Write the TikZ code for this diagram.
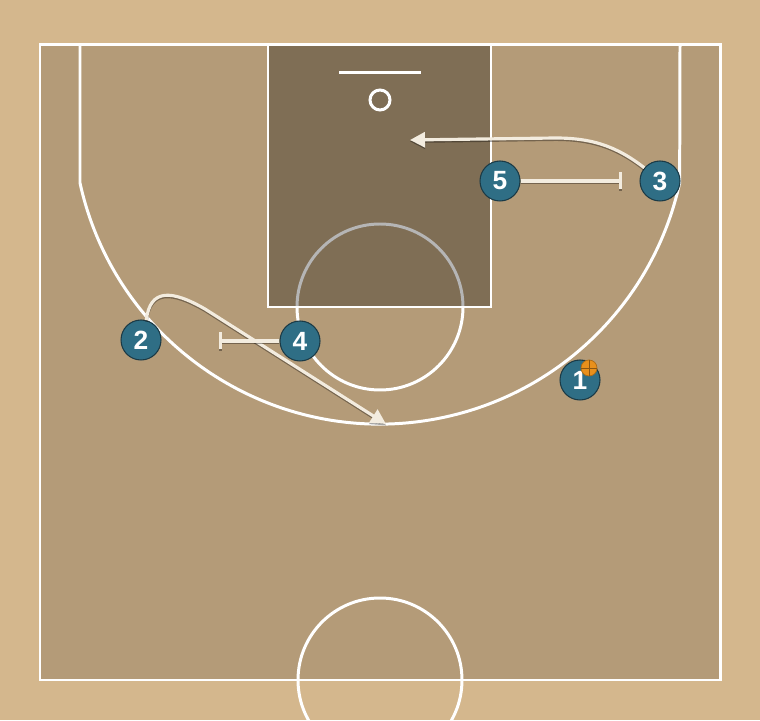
\documentclass[tikz,border=0pt]{standalone}
\usepackage{fontspec}
\setmainfont{Liberation Sans}
\usetikzlibrary{arrows.meta}
\definecolor{wood}{HTML}{D4B78D}
\definecolor{floor}{HTML}{B49B78}
\definecolor{playerblue}{HTML}{2F6E85}
\definecolor{playerdark}{HTML}{1B3A46}
\definecolor{cutline}{HTML}{F3ECDF}
\definecolor{ballorange}{HTML}{E8901C}
\tikzset{
  player/.style={circle,fill=playerblue,draw=playerdark,line width=0.6pt,minimum size=0.8cm,inner sep=0pt,text=white,font=\bfseries\fontsize{15}{15}\selectfont},
  courtline/.style={draw=white,line width=1.7pt},
  shadowed/.style={preaction={draw=black,draw opacity=0.35,line width=1.8pt,transform canvas={yshift=-0.8pt}}},
  cut/.style={draw=cutline,line width=1.8pt,shadowed,-{Triangle[length=0.3cm,width=0.3cm]}},
  screen/.style={draw=cutline,line width=1.8pt,shadowed,-{Bar[width=0.34cm]}}
}
\begin{document}
\begin{tikzpicture}[x=0.02cm,y=0.02cm]
	\clip (0,0) rectangle (760,720);
	\fill[wood] (0,0) rectangle (760,720);
	\fill[floor] (40,40) rectangle (720,675);
	\draw[courtline] (380,413) circle (83);
	\fill[black,fill opacity=0.29] (268,413) rectangle (491,675);
	\draw[white,line width=1.2pt] (268,675) -- (268,413) -- (491,413) -- (491,675);
	\draw[courtline] (40,40) rectangle (720,675);
	\draw[courtline] (80,675) -- (80,537) arc (192.4:347.6:307) -- (680,675);
	\draw[courtline] (339,647) -- (421,647);
	\draw[courtline] (380,620) circle (10);
	\draw[courtline] (380,40) circle (82);
	\node[player] (p1) at (580,340) {1};
	\node[player] (p2) at (141,380) {2};
	\node[player] (p3) at (660,539) {3};
	\node[player] (p4) at (300,379) {4};
	\node[player] (p5) at (500,539) {5};
	\node[circle,fill=ballorange,draw=ballorange!75!black,line width=0.4pt,minimum size=0.32cm,inner sep=0pt] (ball) at (589,352) {};
	\draw[ballorange!60!black,line width=0.4pt] (ball.west) -- (ball.east) (ball.north) -- (ball.south);
	\coordinate (c3end) at (410,580);
	\coordinate (c2end) at (386,296);
	\coordinate (s5end) at (622,539);
	\coordinate (s4end) at (219,379);
	\draw[cut] (p3.140) .. controls (615,575) and (590,582) .. (555,582) -- (c3end);
	\draw[cut] (p2.75) .. controls (150,432) and (172,430) .. (205,411) -- (c2end);
	\draw[screen] (p5) -- (s5end);
	\draw[screen] (p4) -- (s4end);
\end{tikzpicture}
\end{document}
